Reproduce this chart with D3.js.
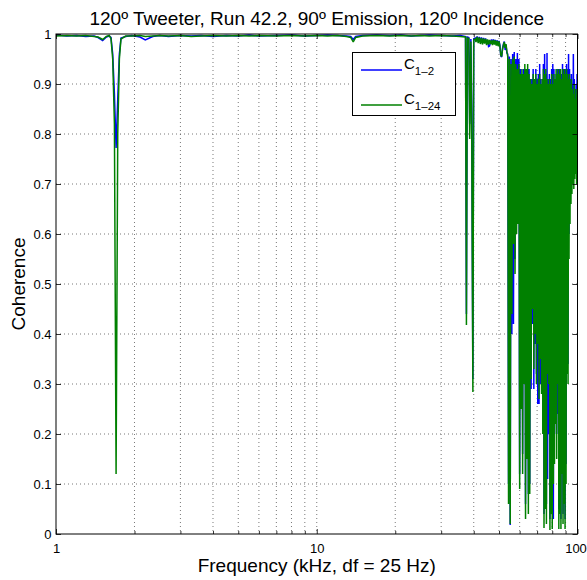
<!DOCTYPE html>
<html>
<head>
<meta charset="utf-8">
<script src="https://d3js.org/d3.v7.min.js"></script>
<style>
body { margin: 0; background: #fff; }
text { font-family: "Liberation Sans", Arial, Helvetica, sans-serif; fill: #000; }
</style>
</head>
<body>
<div id="chart1-container"></div>
<script>
// COHERENCE CHART

// Data: frequency (kHz) and coherence of the two mic pairs

// sparse part, 1 - 41 kHz
var lowFreq = [1.0, 1.1, 1.2, 1.3, 1.4, 1.45, 1.51, 1.56, 1.6, 1.625,
               1.65, 1.675, 1.7, 1.725, 1.75, 1.775, 1.85, 1.95, 2.1, 2.2,
               2.35, 2.5, 2.7, 3.0, 3.3, 3.6, 4.0, 4.5, 5.0, 5.5,
               6.0, 7.0, 8.0, 9.0, 10.0, 11.0, 12.0, 13.0, 13.5, 13.8,
               14.1, 15.0, 17.0, 19.0, 21.0, 23.0, 25.0, 27.0, 30.0, 33.0,
               35.5, 37.2, 37.5, 37.8, 38.3, 38.6, 39.0, 39.3, 39.7, 40.0,
               40.5, 40.8];
var lowC12 = [0.998, 0.996, 0.997, 0.995, 0.996, 0.993, 0.987, 0.994, 0.996, 0.993,
              0.96, 0.88, 0.772, 0.87, 0.96, 0.992, 0.995, 0.997, 0.994, 0.988,
              0.995, 0.997, 0.995, 0.997, 0.996, 0.997, 0.995, 0.997, 0.996, 0.998,
              0.996, 0.997, 0.998, 0.996, 0.997, 0.998, 0.997, 0.996, 0.995, 0.989,
              0.995, 0.997, 0.998, 0.997, 0.998, 0.996, 0.997, 0.998, 0.997, 0.996,
              0.997, 0.995, 0.44, 0.994, 0.993, 0.82, 0.990, 0.84, 0.31, 0.990,
              0.992, 0.986];
var lowC124 = [0.996, 0.997, 0.996, 0.997, 0.995, 0.994, 0.989, 0.995, 0.997, 0.991,
               0.95, 0.82, 0.12, 0.80, 0.95, 0.990, 0.996, 0.996, 0.997, 0.995,
               0.996, 0.997, 0.996, 0.997, 0.995, 0.996, 0.997, 0.996, 0.997, 0.996,
               0.997, 0.996, 0.997, 0.996, 0.997, 0.996, 0.997, 0.995, 0.993, 0.984,
               0.993, 0.996, 0.997, 0.996, 0.997, 0.996, 0.997, 0.996, 0.997, 0.996,
               0.995, 0.994, 0.418, 0.992, 0.991, 0.79, 0.985, 0.80, 0.284, 0.988,
               0.990, 0.984];

// dense part, 41 - 100 kHz
var hfFreq = [41.2, 41.6, 42.0, 42.4, 42.8, 43.2, 43.6, 44.0, 44.4, 44.8,
              45.2, 45.6, 46.0, 46.4, 46.8, 47.2, 47.6, 48.0, 48.4, 48.8,
              49.2, 49.6, 50.0, 50.4, 50.8, 51.2, 51.6, 52.0, 52.4, 52.8,
              53.2, 53.6, 54.0, 54.4, 54.8, 55.2, 55.6, 56.0, 56.4, 56.8,
              57.2, 57.6, 58.0, 58.4, 58.8, 59.2, 59.6, 60.0, 60.4, 60.8,
              61.2, 61.6, 62.0, 62.4, 62.8, 63.2, 63.6, 64.0, 64.4, 64.8,
              65.2, 65.6, 66.0, 66.4, 66.8, 67.2, 67.6, 68.0, 68.4, 68.8,
              69.2, 69.6, 70.0, 70.4, 70.8, 71.2, 71.6, 72.0, 72.4, 72.8,
              73.2, 73.6, 74.0, 74.4, 74.8, 75.2, 75.6, 76.0, 76.4, 76.8,
              77.2, 77.6, 78.0, 78.4, 78.8, 79.2, 79.6, 80.0, 80.4, 80.8,
              81.2, 81.6, 82.0, 82.4, 82.8, 83.2, 83.6, 84.0, 84.4, 84.8,
              85.2, 85.6, 86.0, 86.4, 86.8, 87.2, 87.6, 88.0, 88.4, 88.8,
              89.2, 89.6, 90.0, 90.4, 90.8, 91.2, 91.6, 92.0, 92.4, 92.8,
              93.2, 93.6, 94.0, 94.4, 94.8, 95.2, 95.6, 96.0, 96.4, 96.8,
              97.2, 97.6, 98.0, 98.4, 98.8, 99.2, 99.6, 100.0];
var hfC12 = [0.995, 0.986, 0.994, 0.984, 0.993, 0.983, 0.992, 0.985, 0.991, 0.982,
             0.988, 0.975, 0.976, 0.984, 0.989, 0.982, 0.989, 0.983, 0.988, 0.981,
             0.987, 0.980, 0.986, 0.978, 0.956, 0.954, 0.972, 0.980, 0.985, 0.968,
             0.978, 0.962, 0.96, 0.10, 0.955, 0.018, 0.95, 0.40, 0.96, 0.42,
             0.964, 0.55, 0.95, 0.62, 0.962, 0.65, 0.95, 0.12, 0.93, 0.30,
             0.92, 0.16, 0.93, 0.35, 0.93, 0.06, 0.92, 0.20, 0.93, 0.08,
             0.93, 0.10, 0.90, 0.29, 0.91, 0.42, 0.93, 0.29, 0.90, 0.38,
             0.93, 0.32, 0.91, 0.26, 0.92, 0.26, 0.94, 0.30, 0.91, 0.33,
             0.90, 0.24, 0.94, 0.04, 0.96, 0.10, 0.92, 0.06, 0.962, 0.11,
             0.91, 0.20, 0.92, 0.03, 0.91, 0.08, 0.93, 0.04, 0.94, 0.03,
             0.93, 0.20, 0.90, 0.26, 0.92, 0.20, 0.93, 0.24, 0.92, 0.05,
             0.93, 0.06, 0.92, 0.03, 0.92, 0.16, 0.94, 0.04, 0.93, 0.10,
             0.92, 0.03, 0.93, 0.14, 0.94, 0.35, 0.93, 0.34, 0.96, 0.60,
             0.93, 0.66, 0.91, 0.70, 0.92, 0.72, 0.90, 0.71, 0.96, 0.72,
             0.91, 0.73, 0.89, 0.74, 0.90, 0.72, 0.92, 0.78];
var hfC124 = [0.994, 0.982, 0.993, 0.980, 0.992, 0.979, 0.991, 0.981, 0.990, 0.978,
              0.989, 0.979, 0.988, 0.980, 0.987, 0.978, 0.988, 0.979, 0.987, 0.977,
              0.986, 0.976, 0.985, 0.975, 0.958, 0.955, 0.970, 0.978, 0.984, 0.972,
              0.980, 0.965, 0.955, 0.06, 0.95, 0.02, 0.94, 0.44, 0.95, 0.58,
              0.955, 0.52, 0.94, 0.60, 0.93, 0.62, 0.94, 0.09, 0.92, 0.25,
              0.93, 0.12, 0.92, 0.30, 0.94, 0.03, 0.93, 0.15, 0.94, 0.04,
              0.92, 0.08, 0.91, 0.31, 0.90, 0.45, 0.92, 0.33, 0.91, 0.40,
              0.92, 0.30, 0.90, 0.38, 0.91, 0.27, 0.92, 0.35, 0.90, 0.28,
              0.91, 0.20, 0.93, 0.012, 0.92, 0.05, 0.93, 0.02, 0.91, 0.32,
              0.90, 0.30, 0.91, 0.008, 0.90, 0.04, 0.92, 0.01, 0.90, 0.10,
              0.92, 0.14, 0.91, 0.22, 0.93, 0.15, 0.92, 0.30, 0.93, 0.01,
              0.92, 0.04, 0.93, 0.01, 0.91, 0.12, 0.93, 0.02, 0.92, 0.06,
              0.93, 0.01, 0.92, 0.10, 0.93, 0.32, 0.92, 0.30, 0.91, 0.55,
              0.92, 0.62, 0.90, 0.66, 0.91, 0.68, 0.89, 0.70, 0.88, 0.69,
              0.90, 0.71, 0.87, 0.72, 0.89, 0.70, 0.88, 0.80];

// Axis ticks and labels
var xTickValues = [1, 10, 100];
var xTickLabels = ["1", "10", "100"];
var xMinorValues = [2, 3, 4, 5, 6, 7, 8, 9, 20, 30, 40, 50, 60, 70, 80, 90];
var yTickValues = [0, 0.1, 0.2, 0.3, 0.4, 0.5, 0.6, 0.7, 0.8, 0.9, 1];
var yTickLabels = ["0", "0.1", "0.2", "0.3", "0.4", "0.5", "0.6", "0.7", "0.8", "0.9", "1"];

var seriesNames = ["1\u20132", "1\u201324"];        // subscripts of C in the legend
var seriesColors = ["#0000ff", "#008000"];

var titleText = "120\u00ba Tweeter, Run 42.2, 90\u00ba Emission, 120\u00ba Incidence";
var xLabelText = "Frequency (kHz, df = 25 Hz)";
var yLabelText = "Coherence";

// Chart variables

var margin = {top: 34, right: 9.5, bottom: 46, left: 56};
var width = 587 - margin.left - margin.right;
var height = 580 - margin.top - margin.bottom;

// Building the series

var freq = lowFreq.concat(hfFreq);
var c12 = lowC12.concat(hfC12);
var c124 = lowC124.concat(hfC124);

var series = [
    freq.map(function(f, i) { return {f: f, c: c12[i]}; }),
    freq.map(function(f, i) { return {f: f, c: c124[i]}; })
];

// Creating the Chart

var svg = d3.select("#chart1-container")
    .append("svg")
    .attr("width", 587)
    .attr("height", 580);

var chart1 = svg.append("g")
    .attr("transform", "translate(" + margin.left + "," + margin.top + ")");

// Scales

var xScale = d3.scaleLog()
    .domain([1, 100])
    .range([0, width]);

var yScale = d3.scaleLinear()
    .domain([0, 1])
    .range([height, 0]);

// Grid (dotted, MATLAB style)

var grid = chart1.append("g").attr("class", "grid");

grid.selectAll("line.gx")
    .data(xMinorValues.concat([10]))
    .enter()
    .append("line")
    .attr("x1", function(d) { return xScale(d); })
    .attr("x2", function(d) { return xScale(d); })
    .attr("y1", 0)
    .attr("y2", height)
    .attr("stroke", "#555")
    .attr("stroke-width", 0.8)
    .attr("stroke-dasharray", "1,3");

grid.selectAll("line.gy")
    .data(yTickValues.slice(1, -1))
    .enter()
    .append("line")
    .attr("x1", 0)
    .attr("x2", width)
    .attr("y1", function(d) { return yScale(d); })
    .attr("y2", function(d) { return yScale(d); })
    .attr("stroke", "#555")
    .attr("stroke-width", 0.8)
    .attr("stroke-dasharray", "1,3");

// Lines

chart1.append("clipPath")
    .attr("id", "plotclip")
    .append("rect")
    .attr("width", width)
    .attr("height", height);

var line = d3.line()
    .x(function(d) { return xScale(d.f); })
    .y(function(d) { return yScale(d.c); });

chart1.append("g")
    .attr("clip-path", "url(#plotclip)")
    .selectAll("path")
    .data(series)
    .enter()
    .append("path")
    .attr("d", line)
    .attr("fill", "none")
    .attr("stroke", function(d, i) { return seriesColors[i]; })
    .attr("stroke-width", 1.5)
    .attr("stroke-linejoin", "miter")
    .attr("stroke-miterlimit", 2);

// Axes (ticks pointing inward on all four sides)

var xAxis = d3.axisBottom(xScale)
    .tickValues(xTickValues)
    .tickFormat(function(d, i) { return xTickLabels[i]; })
    .tickSizeInner(-5)
    .tickSizeOuter(0)
    .tickPadding(10);

var yAxis = d3.axisLeft(yScale)
    .tickValues(yTickValues)
    .tickFormat(function(d, i) { return yTickLabels[i]; })
    .tickSizeInner(-5)
    .tickSizeOuter(0)
    .tickPadding(4.5);

var gx = chart1.append("g")
    .attr("transform", "translate(0," + height + ")")
    .call(xAxis);

// keep the last label ("100") inside the window
gx.selectAll(".tick text")
    .filter(function(d) { return d === 100; })
    .attr("dx", -2);

var gy = chart1.append("g")
    .call(yAxis);

chart1.append("g")
    .call(d3.axisTop(xScale).tickValues(xTickValues).tickFormat("").tickSizeInner(-5).tickSizeOuter(0));

chart1.append("g")
    .attr("transform", "translate(" + width + ",0)")
    .call(d3.axisRight(yScale).tickValues(yTickValues).tickFormat("").tickSizeInner(-5).tickSizeOuter(0));

// minor log ticks, bottom and top
chart1.append("g")
    .attr("transform", "translate(0," + height + ")")
    .call(d3.axisBottom(xScale).tickValues(xMinorValues).tickFormat("").tickSizeInner(-3).tickSizeOuter(0));

chart1.append("g")
    .call(d3.axisTop(xScale).tickValues(xMinorValues).tickFormat("").tickSizeInner(-3).tickSizeOuter(0));

chart1.selectAll(".domain").remove();
chart1.selectAll(".tick line").attr("stroke", "#000").attr("stroke-width", 0.8);
chart1.selectAll(".tick text")
    .style("font-family", "'Liberation Sans', Arial, sans-serif")
    .style("font-size", "13px")
    .attr("fill", "#000");

// Box

chart1.append("rect")
    .attr("width", width)
    .attr("height", height)
    .attr("fill", "none")
    .attr("stroke", "#000")
    .attr("stroke-width", 1);

// Titles

svg.append("text")
    .attr("x", margin.left + width / 2)
    .attr("y", 25)
    .attr("text-anchor", "middle")
    .style("font-size", "19px")
    .text(titleText);

svg.append("text")
    .attr("x", margin.left + width / 2)
    .attr("y", 572)
    .attr("text-anchor", "middle")
    .style("font-size", "19px")
    .text(xLabelText);

svg.append("text")
    .attr("transform", "translate(25," + (margin.top + height / 2) + ") rotate(-90)")
    .attr("text-anchor", "middle")
    .style("font-size", "19px")
    .text(yLabelText);

// Legend

var legend = svg.append("g");

legend.append("rect")
    .attr("x", 352.5)
    .attr("y", 52.5)
    .attr("width", 103)
    .attr("height", 63)
    .attr("fill", "#fff")
    .attr("stroke", "#000")
    .attr("stroke-width", 1);

var entries = legend.selectAll("g.entry")
    .data(seriesNames)
    .enter()
    .append("g")
    .attr("transform", function(d, i) { return "translate(0," + (i * 35) + ")"; });

entries.append("line")
    .attr("x1", 361)
    .attr("x2", 402)
    .attr("y1", 70)
    .attr("y2", 70)
    .attr("stroke", function(d, i) { return seriesColors[i]; })
    .attr("stroke-width", 1.5);

var lt = entries.append("text")
    .attr("x", 404)
    .attr("y", 69)
    .style("font-size", "15px");

lt.append("tspan").text("C");
lt.append("tspan")
    .attr("dy", 6)
    .style("font-size", "11.5px")
    .text(function(d) { return d; });

</script>
</body>
</html>
